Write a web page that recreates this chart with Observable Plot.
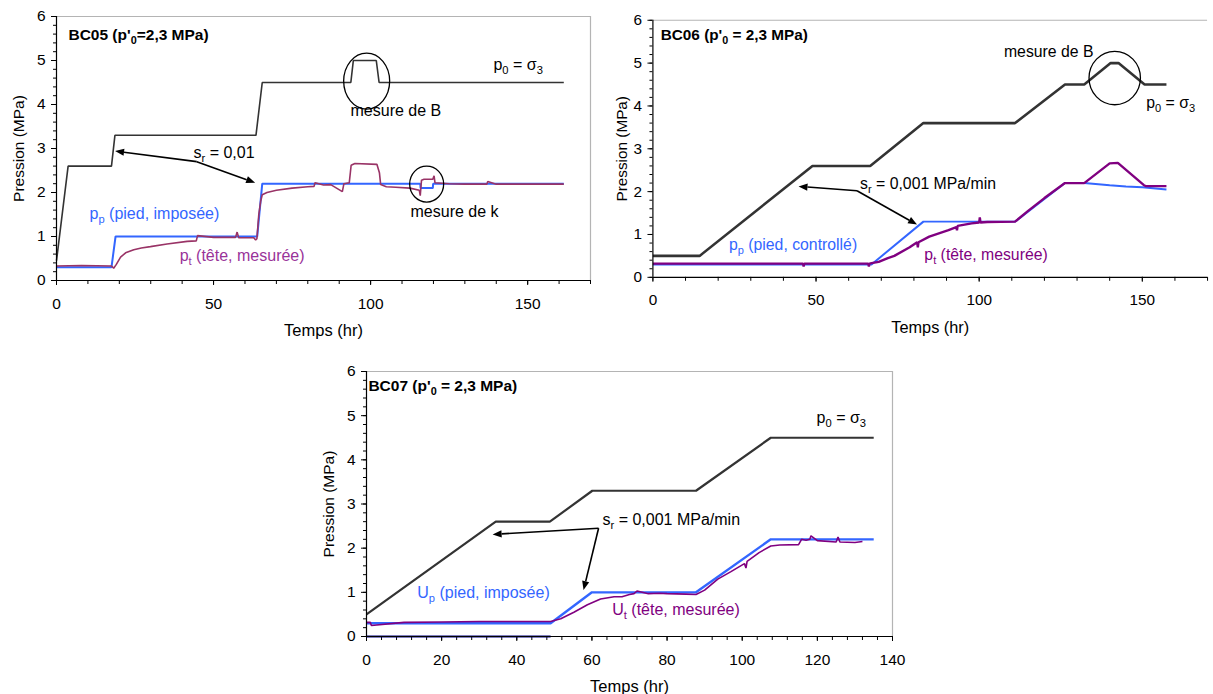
<!DOCTYPE html>
<html><head><meta charset="utf-8">
<script src="https://cdn.jsdelivr.net/npm/d3@7"></script>
<script src="https://cdn.jsdelivr.net/npm/@observablehq/plot@0.6"></script>
<style>
html,body{margin:0;padding:0;background:#fff;width:1213px;height:694px;overflow:hidden;}
.panel{position:absolute;}
</style></head><body>
<div id="p1" class="panel" style="left:0;top:0"></div>
<div id="p2" class="panel" style="left:600px;top:0"></div>
<div id="p3" class="panel" style="left:300px;top:355px"></div>
<script>
// ---------- BC05 ----------
const bc05_p0_t = [0, 3.7, 17.5, 18.6, 63.5, 65.5, 93.7, 94.5, 101.8, 102.7, 161.5];
const bc05_p0_p = [0.45, 2.6, 2.6, 3.3, 3.3, 4.5, 4.5, 5.0, 5.0, 4.5, 4.5];
const bc05_pp_t = [0, 17.5, 18.8, 63.9, 65.5, 115.8, 115.9, 119.8, 119.9, 161.5];
const bc05_pp_p = [0.3, 0.3, 1.0, 1.0, 2.2, 2.2, 2.1, 2.1, 2.2, 2.2];
const bc05_pt_t = [0, 8, 17.5, 18.2, 19, 20.4, 22, 24.6, 27, 29.9, 35.2, 41.6, 44.5, 44.9, 50, 57, 57.5, 58, 62.8, 63.4, 63.8, 64.4, 65, 65.5, 67, 70, 75, 80, 82, 82.3, 85, 87.3, 91, 91.5, 93.2, 93.8, 95, 102, 102.8, 103.2, 105, 108, 112.5, 115.5, 115.8, 116.2, 117, 119.8, 120.2, 120.5, 125, 130, 137, 137.3, 140, 150, 161.5];
const bc05_pt_p = [0.33, 0.34, 0.33, 0.28, 0.36, 0.53, 0.63, 0.70, 0.74, 0.77, 0.83, 0.89, 0.90, 1.02, 0.98, 0.98, 1.10, 0.97, 0.97, 0.92, 0.95, 1.5, 1.8, 1.95, 2.0, 2.05, 2.1, 2.13, 2.14, 2.22, 2.17, 2.18, 2.02, 2.2, 2.22, 2.62, 2.66, 2.64, 2.45, 2.18, 2.13, 2.12, 2.1, 2.05, 1.93, 2.28, 2.3, 2.3, 2.38, 2.22, 2.2, 2.19, 2.19, 2.25, 2.19, 2.19, 2.19];
const bc05_labels = [
  {t: 3.8, p: 5.57, text: "BC05 (p'_{0}=2,3 MPa)", color: "#000", bold: true},
  {t: 139.1, p: 4.89, text: "p_{0} = σ_{3}", color: "#000"},
  {t: 93.6, p: 3.86, text: "mesure de B", color: "#000"},
  {t: 112.7, p: 1.55, text: "mesure de k", color: "#000"},
  {t: 43.6, p: 2.89, text: "s_{r} = 0,01", color: "#000"},
  {t: 10.5, p: 1.52, text: "p_{p} (pied, imposée)", color: "#3366FF"},
  {t: 39.2, p: 0.57, text: "p_{t} (tête, mesurée)", color: "#993399"}
];
const bc05_arrows = [
  {t1: 44.8, p1: 2.69, t2: 18.8, p2: 2.93},
  {t1: 44.8, p1: 2.69, t2: 63.4, p2: 2.21}
];
const bc05_ellipses = [
  {t: 98.9, p: 4.52, rx: 23, ry: 28},
  {t: 118, p: 2.18, rx: 17, ry: 18}
];

// ---------- BC06 ----------
const bc06_p0_t = [0, 14.3, 48.9, 66.6, 82.9, 111, 126.3, 132.2, 140.3, 142.7, 150.7, 157.4];
const bc06_p0_p = [0.5, 0.5, 2.6, 2.6, 3.6, 3.6, 4.5, 4.5, 5.0, 5.0, 4.5, 4.5];
const bc06_pp_t = [0, 67, 82.9, 111, 126.3, 132.2, 140, 145, 150, 157.4];
const bc06_pp_p = [0.3, 0.3, 1.3, 1.3, 2.2, 2.2, 2.15, 2.12, 2.1, 2.05];
const bc06_pt_t = [0, 20, 46, 46.2, 46.4, 60, 66, 66.2, 66.4, 67, 69.2, 72, 74, 78.7, 81, 81.2, 81.4, 84.7, 90.6, 93, 93.2, 93.4, 97.7, 100, 100.2, 100.4, 102.5, 111, 115, 120, 126.3, 132.2, 140, 142.5, 150.5, 151, 157.4];
const bc06_pt_p = [0.32, 0.32, 0.32, 0.25, 0.32, 0.32, 0.32, 0.25, 0.32, 0.33, 0.36, 0.45, 0.5, 0.7, 0.82, 0.7, 0.82, 0.95, 1.1, 1.17, 1.1, 1.2, 1.26, 1.28, 1.4, 1.28, 1.29, 1.3, 1.55, 1.85, 2.2, 2.2, 2.66, 2.67, 2.15, 2.13, 2.13];
const bc06_labels = [
  {t: 2.4, p: 5.65, text: "BC06 (p'_{0} = 2,3 MPa)", color: "#000", bold: true},
  {t: 107.6, p: 5.26, text: "mesure de B", color: "#000"},
  {t: 151.2, p: 4.08, text: "p_{0} = σ_{3}", color: "#000"},
  {t: 63.5, p: 2.17, text: "s_{r} = 0,001 MPa/min", color: "#000"},
  {t: 23.3, p: 0.76, text: "p_{p} (pied, controllé)", color: "#3366FF"},
  {t: 83.2, p: 0.53, text: "p_{t} (tête, mesurée)", color: "#800080"}
];
const bc06_arrows = [
  {t1: 62.7, p1: 2.01, t2: 44.8, p2: 2.11},
  {t1: 62.7, p1: 2.01, t2: 81.1, p2: 1.22}
];
const bc06_ellipses = [
  {t: 141.7, p: 4.64, rx: 26, ry: 27}
];

// ---------- BC07 ----------
const bc07_p0_t = [0, 34.4, 48.8, 60.1, 87.7, 107.6, 135];
const bc07_p0_p = [0.5, 2.6, 2.6, 3.3, 3.3, 4.5, 4.5];
const bc07_pp_t = [0, 49, 60, 87.7, 107.6, 135];
const bc07_pp_p = [0.3, 0.3, 1.0, 1.0, 2.2, 2.2];
const bc07_pt_t = [0, 1, 1.3, 10, 20, 30, 40, 49, 51.7, 55.2, 58.8, 62.3, 65.9, 68, 70, 71.2, 72, 75, 78, 80, 85, 87.7, 90, 93.5, 97, 100.6, 101, 101.3, 104.5, 107.6, 110, 115, 115.8, 117, 118, 118.3, 120, 125, 125.5, 126, 130, 132];
const bc07_pt_p = [0.32, 0.32, 0.25, 0.32, 0.33, 0.34, 0.34, 0.34, 0.4, 0.55, 0.72, 0.85, 0.9, 0.9, 0.95, 0.97, 1.03, 0.97, 0.98, 0.97, 0.96, 0.95, 1.05, 1.3, 1.47, 1.65, 1.55, 1.7, 1.9, 2.05, 2.07, 2.08, 2.2, 2.18, 2.2, 2.28, 2.17, 2.14, 2.25, 2.14, 2.13, 2.15];
const bc07_base_t = [0, 49];
const bc07_base_p = [0, 0];
const bc07_labels = [
  {t: 0.5, p: 5.68, text: "BC07 (p'_{0} = 2,3 MPa)", color: "#000", bold: true},
  {t: 119.8, p: 4.94, text: "p_{0} = σ_{3}", color: "#000"},
  {t: 62.8, p: 2.63, text: "s_{r} = 0,001 MPa/min", color: "#000"},
  {t: 13.5, p: 0.98, text: "U_{p} (pied, imposée)", color: "#3366FF"},
  {t: 65.4, p: 0.61, text: "U_{t} (tête, mesurée)", color: "#800080"}
];
const bc07_arrows = [
  {t1: 61.9, p1: 2.44, t2: 33.7, p2: 2.3},
  {t1: 61.9, p1: 2.44, t2: 57.9, p2: 1.04}
];

// axis ticks
const yMajor = [0, 1, 2, 3, 4, 5, 6];
const yMinor = d3.range(0, 6.001, 0.2);
const x56Major = [0, 50, 100, 150];
const x56Minor = d3.range(0, 171, 10);
const x7Major = [0, 20, 40, 60, 80, 100, 120, 140];
const x7Minor = d3.range(0, 141, 4);

const FONT = "'Liberation Sans', Arial, Helvetica, sans-serif";
const tbl = (t, p) => t.map((d, i) => ({t: d, p: p[i]}));

function ellipseMark(items) {
  return (index, scales) => {
    const g = d3.create("svg:g");
    for (const e of items) {
      g.append("ellipse").attr("cx", scales.x(e.t)).attr("cy", scales.y(e.p))
        .attr("rx", e.rx).attr("ry", e.ry).attr("fill", "none")
        .attr("stroke", "#000").attr("stroke-width", 1.3);
    }
    return g.node();
  };
}

// arrows with filled triangular heads (Excel style)
function arrowMark(items) {
  return (index, scales) => {
    const g = d3.create("svg:g");
    for (const a of items) {
      const x1 = scales.x(a.t1), y1 = scales.y(a.p1), x2 = scales.x(a.t2), y2 = scales.y(a.p2);
      const ang = Math.atan2(y2 - y1, x2 - x1), L = 9, W = 3.6;
      const bx = x2 - L * Math.cos(ang), by = y2 - L * Math.sin(ang);
      g.append("line").attr("x1", x1).attr("y1", y1).attr("x2", bx).attr("y2", by)
        .attr("stroke", "#000").attr("stroke-width", 1.6);
      const px = -Math.sin(ang) * W, py = Math.cos(ang) * W;
      g.append("path").attr("d", `M${x2},${y2}L${bx + px},${by + py}L${bx - px},${by - py}Z`).attr("fill", "#000");
    }
    return g.node();
  };
}

function applySubs(svg) {
  const ns = "http://www.w3.org/2000/svg";
  svg.querySelectorAll("text").forEach(el => {
    const s = el.textContent;
    if (!s.includes("_{")) return;
    while (el.firstChild) el.removeChild(el.firstChild);
    const parts = s.split(/(_\{[^}]*\})/);
    let shifted = false;
    for (const part of parts) {
      if (!part) continue;
      const ts = document.createElementNS(ns, "tspan");
      if (part.startsWith("_{")) {
        ts.textContent = part.slice(2, -1);
        ts.setAttribute("font-size", "70%");
        ts.setAttribute("dy", "4");
        shifted = true;
      } else {
        ts.textContent = part;
        if (shifted) { ts.setAttribute("dy", "-4"); shifted = false; }
      }
      el.appendChild(ts);
    }
  });
}

function panel(cfg) {
  const marks = [
    Plot.axisY({ticks: yMinor, tickSize: 3, tickFormat: () => "", label: null}),
    Plot.axisY({ticks: yMajor, tickSize: 5, tickPadding: 6, fontSize: 15.5, tickFormat: d => String(d), label: null}),
    Plot.axisX({ticks: cfg.xMinor, tickSize: 4, tickFormat: () => "", label: null}),
    Plot.axisX({ticks: cfg.xMajor, tickSize: 5, tickPadding: 12, fontSize: 15.5, tickFormat: d => String(d), label: null}),
    Plot.ruleY([6], {stroke: "#b4b4b4", strokeWidth: 1.2}),
  ];
  if (cfg.rightBorder) marks.push(Plot.ruleX([cfg.xDomain[1]], {stroke: "#b4b4b4", strokeWidth: 1.2}));
  for (const s of cfg.series) {
    marks.push(Plot.line(s.data, {x: "t", y: "p", stroke: s.color, strokeWidth: s.width, strokeLinejoin: "miter", strokeLinecap: "butt"}));
  }
  marks.push(
    Plot.ruleX([0], {stroke: "#000", strokeWidth: 1.2}),
    Plot.ruleY([0], {stroke: "#000", strokeWidth: 1.2}),
    arrowMark(cfg.arrows),
    Plot.text(cfg.labels.filter(d => !d.bold), {x: "t", y: "p", text: "text", fill: "color", textAnchor: "start", fontSize: 16}),
    Plot.text(cfg.labels.filter(d => d.bold), {x: "t", y: "p", text: "text", fill: "color", textAnchor: "start", fontSize: 15.5, fontWeight: "bold"}),
    Plot.text(["Pression (MPa)"], {frameAnchor: "left", dx: cfg.ylabDx, rotate: -90, textAnchor: "middle", lineAnchor: "middle", fontSize: 15.5, text: d => d}),
    Plot.text(["Temps (hr)"], {frameAnchor: "bottom", dy: cfg.xlabDy, textAnchor: "middle", lineAnchor: "middle", fontSize: 16.5, text: d => d})
  );
  if (cfg.ellipses) marks.push(ellipseMark(cfg.ellipses));
  const svg = Plot.plot({
    width: cfg.width, height: cfg.height,
    marginLeft: cfg.ml, marginRight: cfg.mr, marginTop: cfg.mt, marginBottom: cfg.mb,
    style: {fontFamily: FONT, fontSize: "15px", color: "#000", background: "transparent", overflow: "visible"},
    x: {domain: cfg.xDomain},
    y: {domain: [0, 6]},
    marks
  });
  applySubs(svg);
  document.getElementById(cfg.id).appendChild(svg);
}

panel({
  id: "p1", width: 600, height: 345, ml: 56, mr: 10, mt: 16, mb: 65,
  xDomain: [0, 170], xMajor: x56Major, xMinor: x56Minor, rightBorder: true,
  ylabDx: -37, xlabDy: 50,
  series: [
    {data: tbl(bc05_p0_t, bc05_p0_p), color: "#333333", width: 1.6},
    {data: tbl(bc05_pp_t, bc05_pp_p), color: "#3366FF", width: 2},
    {data: tbl(bc05_pt_t, bc05_pt_p), color: "#993366", width: 1.6}
  ],
  labels: bc05_labels, arrows: bc05_arrows, ellipses: bc05_ellipses
});

panel({
  id: "p2", width: 620, height: 345, ml: 53, mr: 6, mt: 20, mb: 65,
  xDomain: [0, 170], xMajor: x56Major, xMinor: x56Minor, rightBorder: false,
  ylabDx: -31, xlabDy: 51,
  series: [
    {data: tbl(bc06_p0_t, bc06_p0_p), color: "#333333", width: 2.6},
    {data: tbl(bc06_pp_t, bc06_pp_p), color: "#3366FF", width: 2},
    {data: tbl(bc06_pt_t, bc06_pt_p), color: "#800080", width: 2.4}
  ],
  labels: bc06_labels, arrows: bc06_arrows, ellipses: bc06_ellipses
});

panel({
  id: "p3", width: 620, height: 339, ml: 66, mr: 28, mt: 16, mb: 58,
  xDomain: [0, 140], xMajor: x7Major, xMinor: x7Minor, rightBorder: true,
  ylabDx: -37, xlabDy: 50,
  series: [
    {data: tbl(bc07_base_t, bc07_base_p), color: "#000080", width: 2.2},
    {data: tbl(bc07_p0_t, bc07_p0_p), color: "#333333", width: 2.2},
    {data: tbl(bc07_pp_t, bc07_pp_p), color: "#3366FF", width: 2.4},
    {data: tbl(bc07_pt_t, bc07_pt_p), color: "#800080", width: 1.6}
  ],
  labels: bc07_labels, arrows: bc07_arrows
});
</script>
</body></html>
